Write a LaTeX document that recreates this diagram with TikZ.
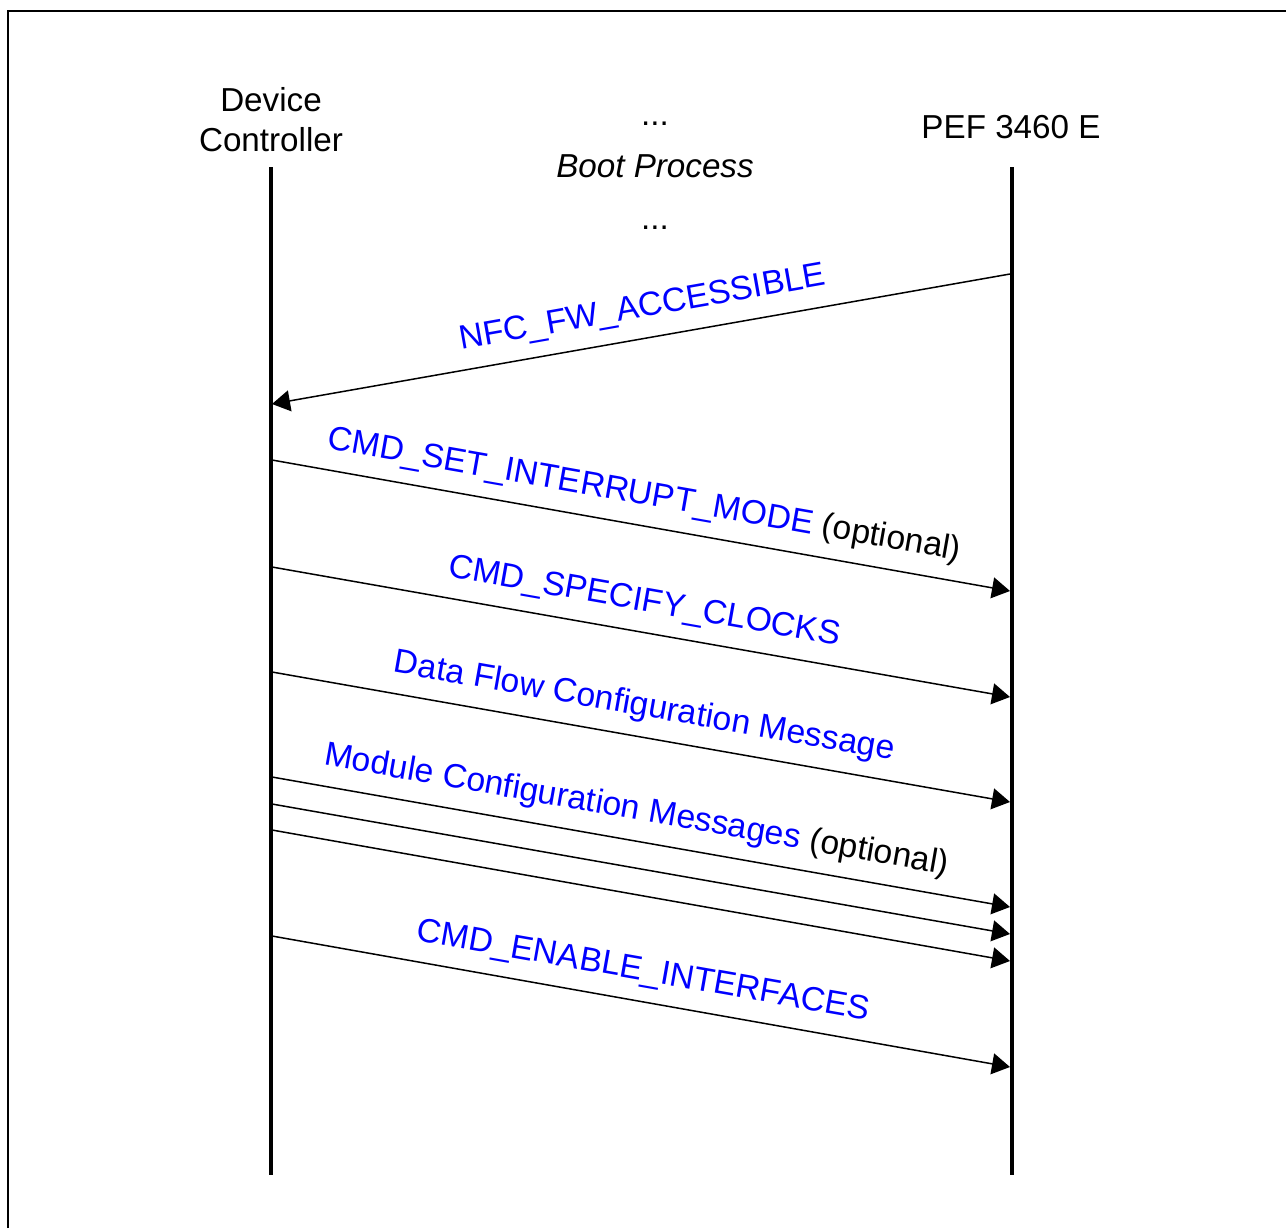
\documentclass[tikz,border=0pt]{standalone}
\usepackage{fontspec}
\setmainfont{Liberation Sans}
\usetikzlibrary{arrows.meta,calc}
\begin{document}
\begin{tikzpicture}[x=0.5pt,y=-0.5pt,
  lbl/.style={inner sep=0pt, font=\fontsize{16.6}{20}\selectfont},
  msg/.style={inner sep=0pt, anchor=base, text=blue, font=\fontsize{16.85}{20}\selectfont},
  lifeline/.style={line width=2pt},
  msgline/.style={line width=0.75pt, -{Triangle[length=9pt,width=10.5pt]}},
  frameline/.style={line width=1pt}
]
\useasboundingbox (0,0) rectangle (1286,1228);
% frame (cropped)
\coordinate (fA) at (8,1228);
\coordinate (fB) at (8,11);
\coordinate (fC) at (1286,11);
\draw[frameline] (fA) -- (fB) -- (fC);

% headers
\node[lbl, align=center] (dc) at (271,120) {Device\\Controller};
\node[lbl, anchor=base] (pef) at (1011,138) {PEF 3460 E};
\node[lbl, anchor=base] (dots1) at (655,125) {...};
\node[lbl, anchor=base, font={\fontsize{16.6}{20}\selectfont\itshape}] (boot) at (655,177) {Boot Process};
\node[lbl, anchor=base] (dots2) at (655,229) {...};

% lifelines
\coordinate (dcTop) at (271,167);
\coordinate (dcBot) at (271,1175);
\coordinate (pefTop) at (1012,167);
\coordinate (pefBot) at (1012,1175);
\draw[lifeline] (dcTop) -- (dcBot);
\draw[lifeline] (pefTop) -- (pefBot);

% message endpoints
\coordinate (s1) at (1010,274); \coordinate (e1) at (272,404);
\coordinate (s2) at (272,460);  \coordinate (e2) at (1010,591);
\coordinate (s3) at (272,567);  \coordinate (e3) at (1010,697);
\coordinate (s4) at (272,672);  \coordinate (e4) at (1010,802);
\coordinate (s5) at (272,777);  \coordinate (e5) at (1010,907);
\coordinate (s6) at (272,804);  \coordinate (e6) at (1010,934);
\coordinate (s7) at (272,830);  \coordinate (e7) at (1010,961);
\coordinate (s8) at (272,936);  \coordinate (e8) at (1010,1067);

\foreach \i in {1,...,8}{
  \draw[msgline] (s\i) -- (e\i);
}
\coordinate (mid1) at ($($(s1)!0.5!(e1)$)!3.5pt!(s1)$);
\coordinate (mid2) at ($($(s2)!0.5!(e2)$)!-1pt!(e2)$);
\coordinate (mid3) at ($($(s3)!0.5!(e3)$)!-1pt!(e3)$);
\coordinate (mid4) at ($($(s4)!0.5!(e4)$)!-1pt!(e4)$);
\coordinate (mid5) at ($($(s5)!0.5!(e5)$)!-5pt!(e5)$);
\coordinate (mid8) at ($($(s8)!0.5!(e8)$)!-1.5pt!(e8)$);

% labels
\node[msg, rotate=10] (l1) at ($(mid1)!10.5pt!-90:(e1)$) {NFC\_FW\_ACCESSIBLE};
\node[msg, rotate=-10] (l2) at ($(mid2)!10.5pt!90:(e2)$) {CMD\_SET\_INTERRUPT\_MODE \textcolor{black}{(optional)}};
\node[msg, rotate=-10] (l3) at ($(mid3)!10.5pt!90:(e3)$) {CMD\_SPECIFY\_CLOCKS};
\node[msg, rotate=-10] (l4) at ($(mid4)!10.5pt!90:(e4)$) {Data Flow Configuration Message};
\node[msg, rotate=-10] (l5) at ($(mid5)!10.5pt!90:(e5)$) {Module Configuration Messages \textcolor{black}{(optional)}};
\node[msg, rotate=-10] (l8) at ($(mid8)!10.5pt!90:(e8)$) {CMD\_ENABLE\_INTERFACES};
\end{tikzpicture}
\end{document}
